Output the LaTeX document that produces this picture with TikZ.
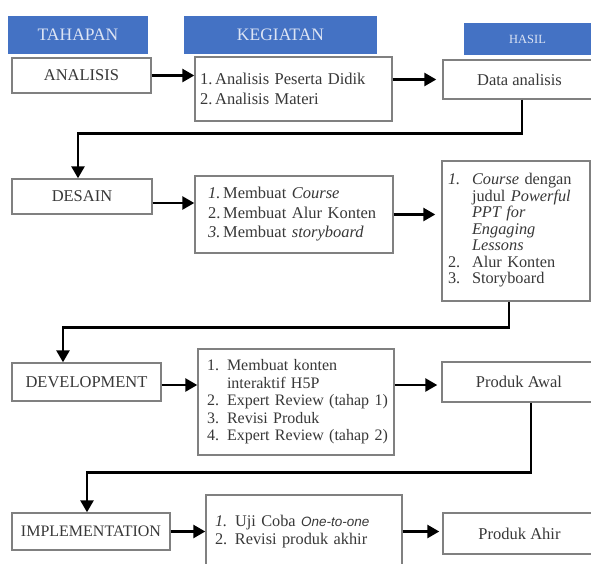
\documentclass[tikz,border=0pt]{standalone}
\usepackage{fontspec}
\setmainfont{Liberation Serif}
\setsansfont{Liberation Sans}
\usetikzlibrary{arrows.meta,positioning,calc}
\definecolor{fig-header}{HTML}{4472C4}
\definecolor{fig-headtext}{HTML}{DCE4F4}
\definecolor{fig-border}{HTML}{808080}
\definecolor{fig-ink}{HTML}{383838}

\begin{document}
\begin{tikzpicture}[
    x=1pt, y=-1pt,
    header/.style={fill=fig-header, text=fig-headtext, minimum height=38pt, inner sep=0pt, font=\fontsize{17.5}{19}\selectfont},
    phase/.style={draw=fig-border, fill=white, line width=1.4pt, text=fig-ink, inner sep=0pt, font=\fontsize{16.5}{18}\selectfont},
    task/.style={draw=fig-border, fill=white, line width=1.4pt, text=fig-ink, align=left, inner ysep=0pt, font=\fontsize{16}{17.5}\selectfont},
    flow/.style={-{Triangle[length=12pt,width=13pt]}, draw=black, line width=2.6pt},
]
\path[use as bounding box] (0,0) rectangle (591,563);

% kepala kolom
\node[header, minimum width=140pt] (htahapan) at (78,35) {TAHAPAN};
\node[header, minimum width=193pt] (hkegiatan) at (280.5,35) {KEGIATAN};
\node[header, minimum width=127pt, minimum height=32pt, font=\fontsize{12.5}{14}\selectfont] (hhasil) at (527.5,39) {HASIL};

% analisis
\node[phase, minimum width=139pt, minimum height=35pt] (panalisis) at (81.5,75.5) {ANALISIS};
\node[task, inner xsep=5pt, text width=187pt, minimum height=64pt, font=\fontsize{16.5}{20}\selectfont] (kanalisis) at (293.5,89)
    {1.\,Analisis Peserta Didik\\2.\,Analisis Materi};
\node[phase, minimum width=153pt, minimum height=39pt] (ranalisis) at (519.5,79.5) {Data analisis};

% desain
\node[phase, minimum width=140pt, minimum height=35pt] (pdesain) at (82,196.5) {DESAIN};
\node[task, inner xsep=13pt, text width=172pt, minimum height=77pt, font=\fontsize{16.5}{19.5}\selectfont] (kdesain) at (294,214.5)
    {\textit{1.}\,Membuat \textit{Course}\\2.\,Membuat Alur Konten\\\textit{3.}\,Membuat \textit{storyboard}};
\node[task, inner xsep=6pt, text width=136pt, minimum height=140pt, font=\fontsize{16.3}{16.5}\selectfont] (rdesain) at (516,231)
    {\begin{tabular}{@{}p{24pt}@{}l@{}}
     \textit{1.} & \textit{Course} dengan\\
      & judul \textit{Powerful}\\
      & \textit{PPT for}\\
      & \textit{Engaging}\\
      & \textit{Lessons}\\
     2. & Alur Konten\\
     3. & Storyboard
     \end{tabular}};

% development
\node[phase, minimum width=149pt, minimum height=38pt] (pdevelopment) at (86.5,382) {DEVELOPMENT};
\node[task, inner xsep=9pt, text width=178pt, minimum height=106pt] (kdevelopment) at (296,402)
    {\begin{tabular}{@{}p{20pt}@{}l@{}}
     1. & Membuat konten\\
      & interaktif H5P\\
     2. & Expert Review (tahap 1)\\
     3. & Revisi Produk\\
     4. & Expert Review (tahap 2)
     \end{tabular}};
\node[phase, minimum width=154pt, minimum height=40pt] (rdevelopment) at (519,382) {Produk Awal};

% implementation
\node[phase, minimum width=158pt, minimum height=37pt, font=\fontsize{16}{18}\selectfont] (pimplementation) at (91,531.5) {IMPLEMENTATION};
\node[task, inner xsep=9pt, text width=178pt, minimum height=74pt, font=\fontsize{16.3}{17.5}\selectfont] (kimplementation) at (304,532)
    {\begin{tabular}{@{}p{20pt}@{}l@{}}
     \textit{1.} & Uji Coba \textsf{\textit{\fontsize{13.5}{17.5}\selectfont One-to-one}}\\
     2. & Revisi produk akhir
     \end{tabular}};
\node[phase, minimum width=153pt, minimum height=41pt] (rimplementation) at (519.5,533.5) {Produk Ahir};

% panah
\coordinate (ydesain) at ([yshift=-6.5pt]pdesain.east);
\coordinate (ydev) at ([yshift=-3pt]pdevelopment.east);
\draw[flow] (panalisis.east) -- (panalisis.east -| kanalisis.west);
\draw[flow, shorten >=6pt] (kanalisis.east |- ranalisis.west) -- (ranalisis.west);
\draw[flow] ([xshift=2.5pt]ranalisis.south) -- ++(0,34) -| ([xshift=-4pt]pdesain.north);
\draw[flow] (ydesain) -- (ydesain -| kdesain.west);
\draw[flow, shorten >=6pt] (kdesain.east) -- (kdesain.east -| rdesain.west);
\draw[flow] ([xshift=-7pt]rdesain.south) -- ++(0,26) -| ([xshift=-23.5pt]pdevelopment.north);
\draw[flow] (ydev) -- (ydev -| kdevelopment.west);
\draw[flow, shorten >=4pt] (ydev -| kdevelopment.east) -- (ydev -| rdevelopment.west);
\draw[flow] ([xshift=12pt]rdevelopment.south) -- ++(0,70) -| ([xshift=-4pt]pimplementation.north);
\draw[flow] (pimplementation.east) -- (pimplementation.east -| kimplementation.west);
\draw[flow, shorten >=3pt] (pimplementation.east -| kimplementation.east) -- (pimplementation.east -| rimplementation.west);
\end{tikzpicture}
\end{document}
